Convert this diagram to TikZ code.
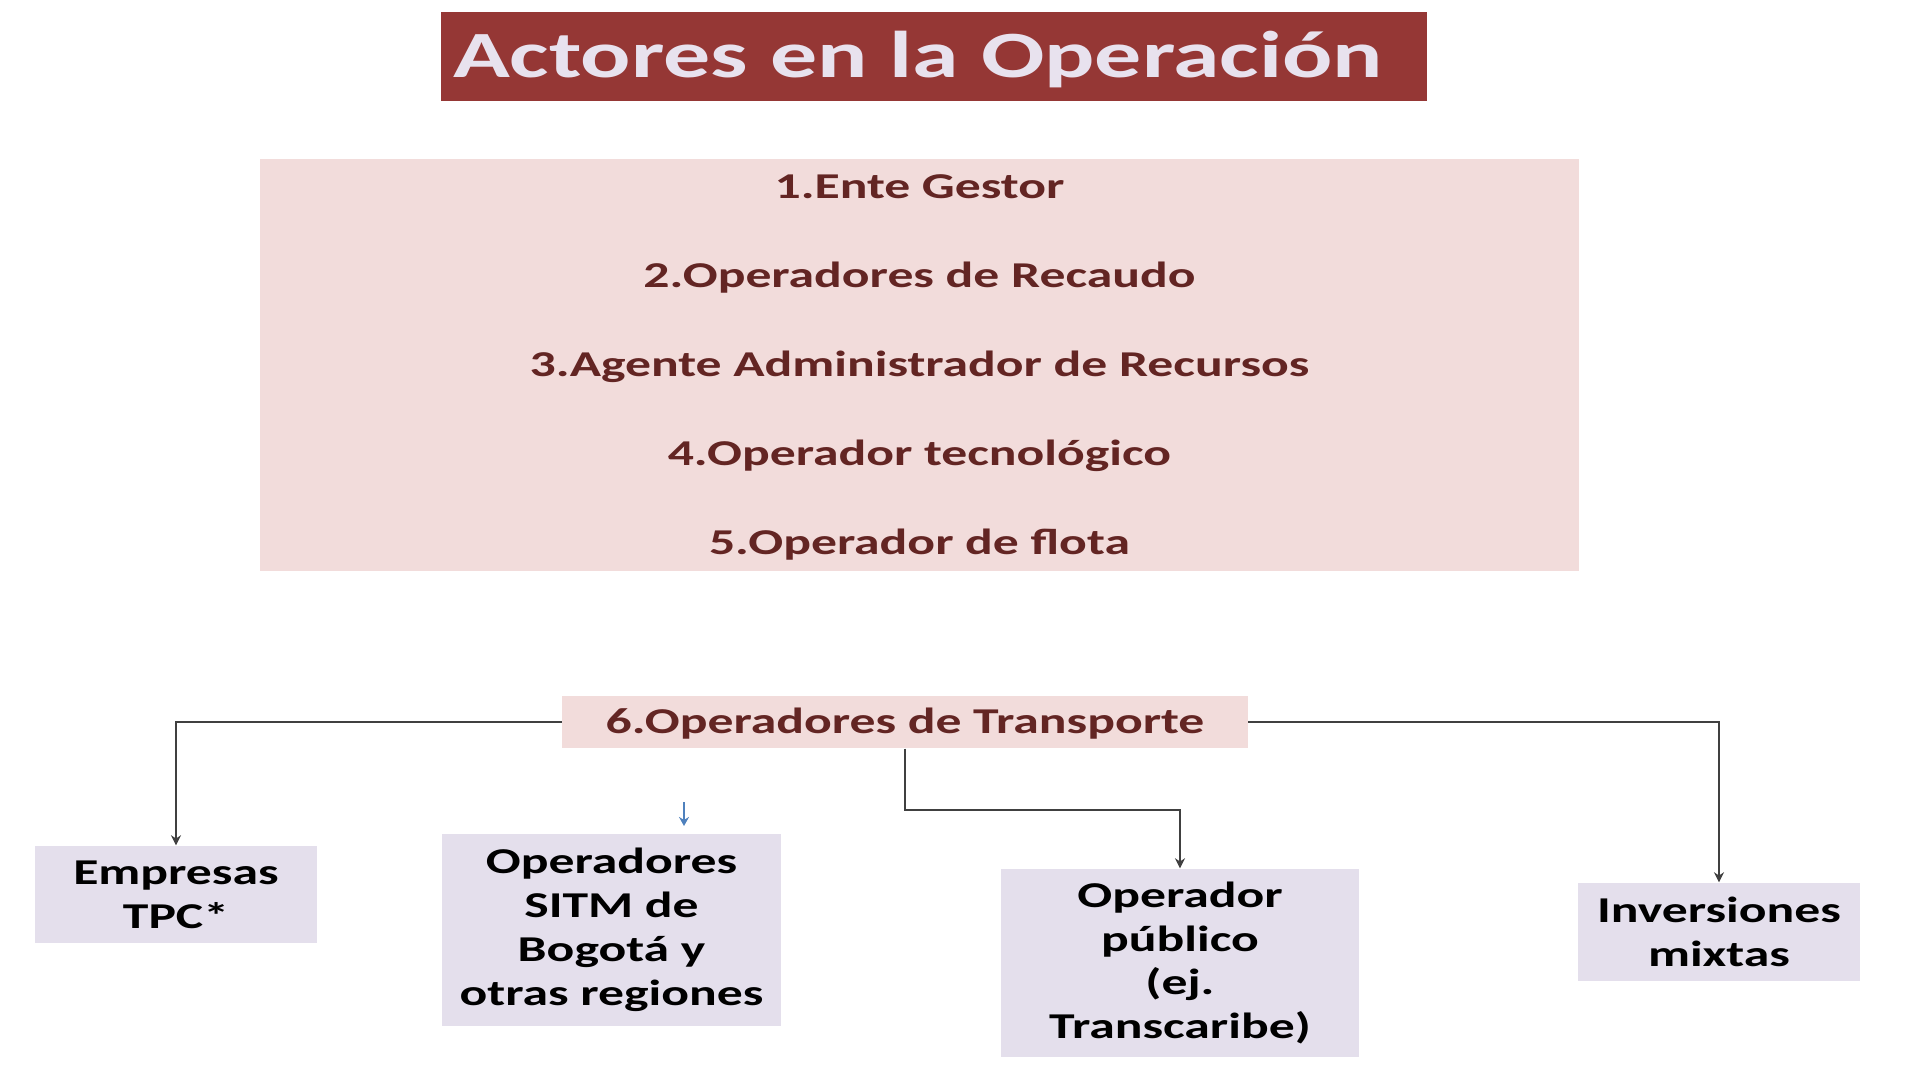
\documentclass[tikz,border=0pt]{standalone}
\usepackage{fontspec}
\setmainfont[FakeStretch=1.42]{Carlito}
\usepackage{tikz}
\usetikzlibrary{arrows.meta, positioning}

\definecolor{titlered}{HTML}{953735}
\definecolor{titletext}{HTML}{E8E2EE}
\definecolor{pinkfill}{HTML}{F2DCDB}
\definecolor{darkred}{HTML}{632523}
\definecolor{lilac}{HTML}{E4DFEC}
\definecolor{arrowblue}{HTML}{4F81BD}
\definecolor{linegray}{HTML}{404040}

\begin{document}
\begin{tikzpicture}[
    bodyfont/.style={font=\fontsize{10.35pt}{12.5pt}\selectfont\bfseries},
    titlebox/.style={rectangle, fill=titlered, text=titletext, font=\fontsize{18.8pt}{22pt}\selectfont\bfseries,
        minimum width=9.86cm, minimum height=0.89cm, text width=9.62cm, align=left, inner xsep=0.12cm,
        text height=0.425cm, text depth=0cm},
    pinkbox/.style={rectangle, fill=pinkfill, minimum width=13.19cm, minimum height=4.12cm},
    actorline/.style={bodyfont, text=darkred, text height=0.23cm, text depth=0cm, inner sep=0pt},
    transbox/.style={rectangle, fill=pinkfill, bodyfont, text=darkred, minimum width=6.855cm, minimum height=0.52cm,
        text height=0.23cm, text depth=0cm},
    lilacbox/.style={rectangle, fill=lilac, bodyfont, text=black, align=center, inner sep=0pt},
    conn/.style={draw=linegray, line width=0.6pt, -{Stealth[length=1mm, width=1mm]}},
    bluearrow/.style={draw=arrowblue, line width=0.6pt, -{Stealth[length=0.9mm, width=1mm]}},
    node distance=0.645cm
]

\useasboundingbox (0,0) rectangle (19.19,-10.80);

% Title
\node[titlebox] (titulo) at (9.34,-0.565) {Actores en la Operación};

% Actors box
\node[pinkbox] (actores) at (9.195,-3.65) {};
\node[actorline] (ente) at (9.195,-1.87) {1.Ente Gestor};
\node[actorline, below=of ente] (recaudo) {2.Operadores de Recaudo};
\node[actorline, below=of recaudo] (agente) {3.Agente Administrador de Recursos};
\node[actorline, below=of agente] (tecnologico) {4.Operador tecnológico};
\node[actorline, below=of tecnologico] (flota) {5.Operador de flota};

% Transport operators
\node[transbox] (transporte) at (9.05,-7.22) {6.Operadores de Transporte};

\node[lilacbox, minimum width=2.815cm, minimum height=0.97cm] (empresas) at (1.76,-8.945) {Empresas\\TPC*};
\node[lilacbox, minimum width=3.39cm, minimum height=1.92cm] (sitm) at (6.115,-9.30) {Operadores\\SITM de\\Bogotá y\\otras regiones};
\node[lilacbox, minimum width=3.58cm, minimum height=1.88cm] (publico) at (11.80,-9.63) {Operador\\público\\(ej.\\Transcaribe)};
\node[lilacbox, minimum width=2.82cm, minimum height=0.98cm] (inversiones) at (17.19,-9.32) {Inversiones\\mixtas};

\coordinate (bluetop) at (6.84,-8.02);

% Connectors
\draw[conn] (transporte.west) -| (empresas.north);
\draw[conn] (transporte.east) -| (inversiones.north);
\draw[conn] (transporte.south) -- ++(0,-0.614) -| (publico.north);
\draw[bluearrow] (bluetop) -- ++(0,-0.24);

\end{tikzpicture}
\end{document}
